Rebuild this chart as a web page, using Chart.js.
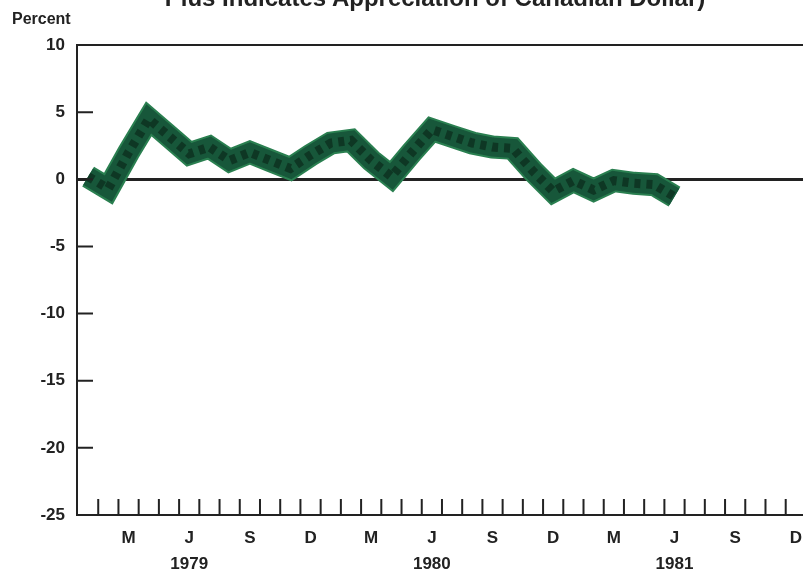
<!DOCTYPE html>
<html>
<head>
<meta charset="utf-8">
<script src="https://cdn.jsdelivr.net/npm/chart.js@4/dist/chart.umd.min.js"></script>
<style>
    html, body { margin: 0; padding: 0; background: #ffffff; overflow: hidden; width: 803px; height: 575px; }
    #wrap { position: relative; width: 803px; height: 575px; overflow: hidden; }
    #chart { position: absolute; left: 0; top: 0; }
    #title { position: absolute; left: 0; width: 870px; top: -14px; text-align: center; font: bold 24px "Liberation Sans", Arial, sans-serif; color: #222; line-height: 24px; white-space: nowrap; }
    #unit { position: absolute; left: 12px; top: 10px; font: bold 16px "Liberation Sans", Arial, sans-serif; color: #222; }
</style>
</head>
<body>
<div id="wrap">
    <canvas id="chart" width="830" height="575"></canvas>
    <div id="title">Plus Indicates Appreciation of Canadian Dollar)</div>
    <div id="unit">Percent</div>
</div>
<script>
        // ===== 数据 =====
        const months = [
            "1979-01", "1979-02", "1979-03", "1979-04", "1979-05", "1979-06",
            "1979-07", "1979-08", "1979-09", "1979-10", "1979-11", "1979-12",
            "1980-01", "1980-02", "1980-03", "1980-04", "1980-05", "1980-06",
            "1980-07", "1980-08", "1980-09", "1980-10", "1980-11", "1980-12",
            "1981-01", "1981-02", "1981-03", "1981-04", "1981-05", "1981-06"
        ];
        const values = [
            0.2, -0.7, 2.0, 4.5, 3.2, 1.9, 2.4, 1.4, 2.0, 1.4, 0.8, 1.8,
            2.7, 2.9, 1.4, 0.2, 2.0, 3.7, 3.2, 2.7, 2.4, 2.3, 0.6, -0.9,
            -0.1, -0.8, -0.1, -0.3, -0.4, -1.3
        ];
        const tickMonths = ["1979-03", "1979-06", "1979-09", "1979-12", "1980-03", "1980-06",
                            "1980-09", "1980-12", "1981-03", "1981-06", "1981-09", "1981-12"];
        const tickLabels = ["M", "J", "S", "D", "M", "J", "S", "D", "M", "J", "S", "D"];
        const yearLabels = ["", "1979", "", "", "", "1980", "", "", "", "1981", "", ""];
        const yTicks = [-25, -20, -15, -10, -5, 0, 5, 10];

        // months since Jan 1979
        const monthNo = s => (parseInt(s.slice(0, 4)) - 1979) * 12 + parseInt(s.slice(5)) - 1;
        const points = months.map((m, i) => ({ x: monthNo(m) + 0.5, y: values[i] }));

        const ink = "#222222";
        Chart.defaults.font.family = "'Liberation Sans', Arial, sans-serif";

        // inward tick marks (month boundaries on x, every 5 on y)
        const innerTicks = {
            id: "innerTicks",
            afterDraw(chart) {
                const { ctx, chartArea, scales } = chart;
                ctx.save();
                ctx.strokeStyle = ink;
                ctx.lineWidth = 2;
                ctx.beginPath();
                for (let k = 1; k <= 37; k++) {
                    const px = scales.x.getPixelForValue(k);
                    ctx.moveTo(px, chartArea.bottom);
                    ctx.lineTo(px, chartArea.bottom - 16);
                }
                yTicks.slice(1, -1).forEach(v => {
                    const py = scales.y.getPixelForValue(v);
                    ctx.moveTo(chartArea.left, py);
                    ctx.lineTo(chartArea.left + 16, py);
                });
                ctx.stroke();
                ctx.restore();
            }
        };

        const lineBase = {
            data: points,
            pointRadius: 0,
            tension: 0,
            fill: false,
            borderJoinStyle: "miter",
            borderCapStyle: "butt"
        };

        const ctx = document.getElementById("chart").getContext("2d");
        const chart = new Chart(ctx, {
            type: "line",
            data: {
                datasets: [
                    { ...lineBase, borderColor: "rgba(6,24,14,0.5)", borderWidth: 9, borderDash: [6, 6], order: 1 },
                    { ...lineBase, borderColor: "#17573a", borderWidth: 19, order: 2 },
                    { ...lineBase, borderColor: "#2a7f50", borderWidth: 23, order: 3 }
                ]
            },
            options: {
                responsive: false,
                animation: false,
                layout: { padding: { left: 0, right: 0, top: 45, bottom: 0 } },
                plugins: { legend: { display: false }, tooltip: { enabled: false } },
                scales: {
                    x: {
                        type: "linear",
                        min: -0.05,
                        max: -0.05 + 753 / 20.22,
                        afterBuildTicks(scale) {
                            scale.ticks = tickMonths.map(m => ({ value: monthNo(m) + 0.5 }));
                        },
                        afterFit(scale) { scale.height = 60; },
                        grid: { display: false, drawTicks: false },
                        border: { display: true, color: ink, width: 2 },
                        ticks: {
                            autoSkip: false,
                            maxRotation: 0,
                            padding: 10,
                            color: ink,
                            font: { size: 17, weight: "bold", lineHeight: 1.55 },
                            callback: (v, i) => [tickLabels[i], yearLabels[i]]
                        }
                    },
                    y: {
                        min: -25,
                        max: 10,
                        afterBuildTicks(scale) {
                            scale.ticks = yTicks.map(v => ({ value: v }));
                        },
                        afterFit(scale) { scale.width = 77; },
                        grid: {
                            drawTicks: false,
                            color: c => (c.tick.value === 0 || c.tick.value === 10) ? ink : "rgba(0,0,0,0)",
                            lineWidth: c => c.tick.value === 0 ? 3 : 2
                        },
                        border: { display: true, color: ink, width: 2 },
                        ticks: {
                            padding: 12,
                            color: ink,
                            font: { size: 17, weight: "bold" }
                        }
                    }
                }
            },
            plugins: [innerTicks]
        });
</script>
</body>
</html>
